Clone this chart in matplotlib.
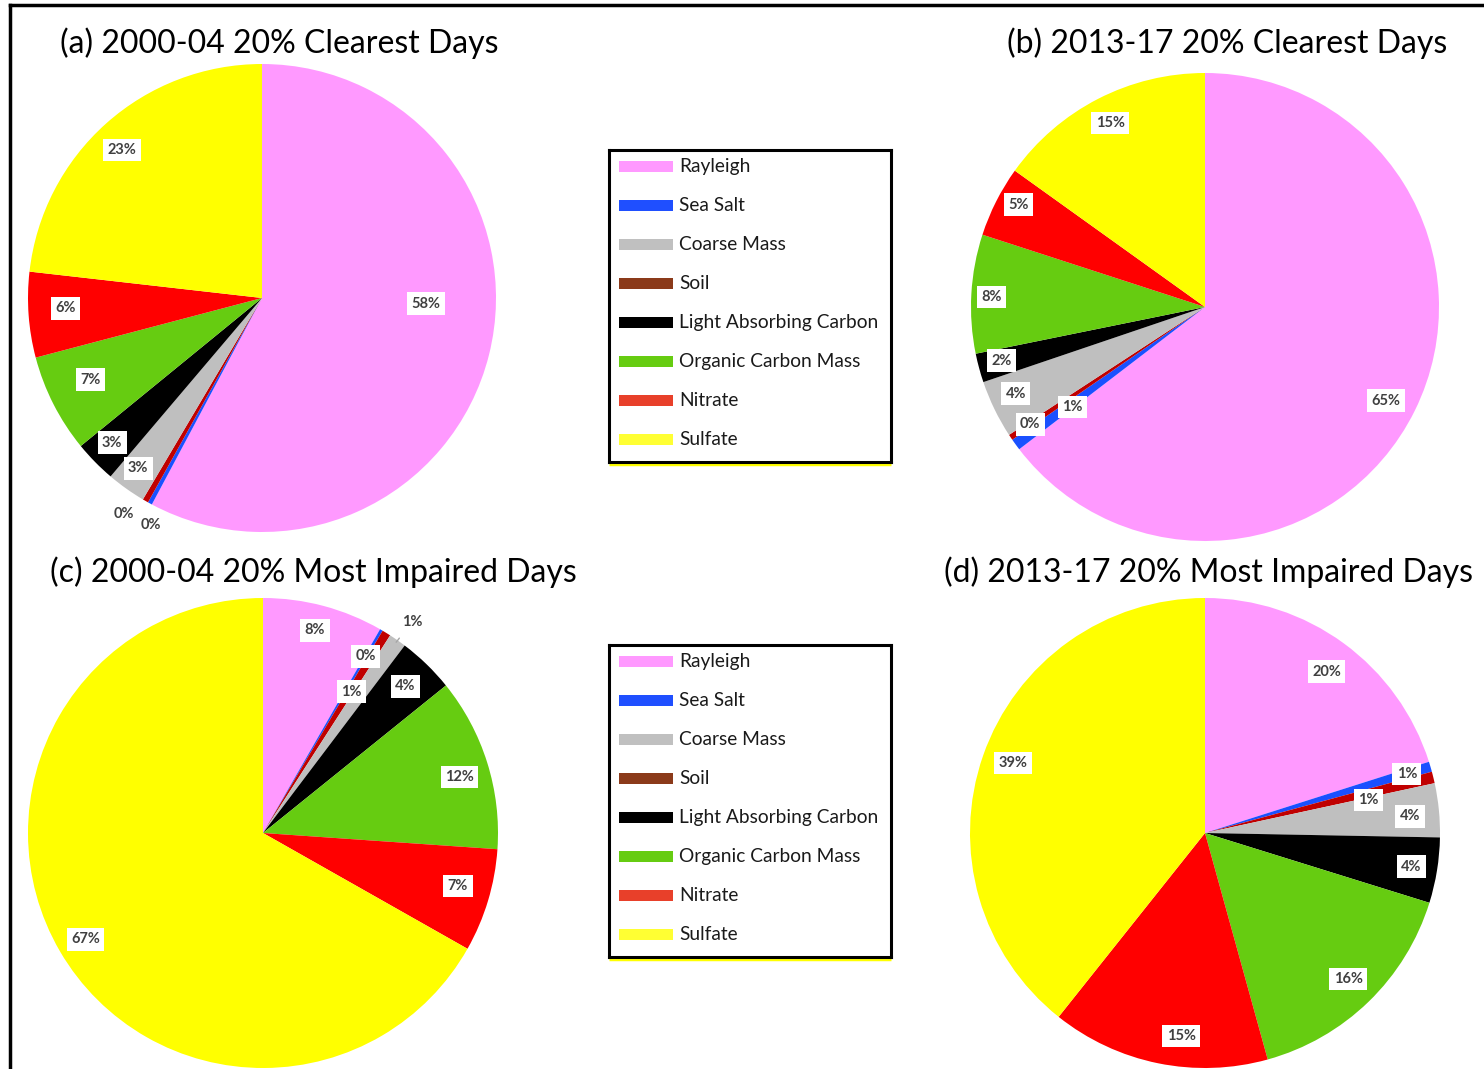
import numpy as np
import matplotlib
matplotlib.use("Agg")
import matplotlib.pyplot as plt
from matplotlib.patches import Rectangle
from matplotlib.lines import Line2D

W, H = 1484, 1069

# slice order as drawn clockwise from 12 o'clock
species = ["Rayleigh", "Sea Salt", "Soil", "Coarse Mass",
           "Light Absorbing Carbon", "Organic Carbon Mass", "Nitrate", "Sulfate"]
clear_0004 = [57.8, 0.3, 0.4, 2.7, 2.9, 6.8, 5.9, 23.2]
clear_1317 = [64.6, 0.8, 0.4, 4.0, 2.0, 8.2, 4.9, 15.1]
impaired_0004 = [8.3, 0.2, 0.6, 1.2, 3.9, 11.9, 7.1, 66.8]
impaired_1317 = [20.1, 0.7, 0.8, 3.7, 4.5, 15.9, 15.0, 39.3]
titles = ["(a) 2000-04 20% Clearest Days", "(b) 2013-17 20% Clearest Days",
          "(c) 2000-04 20% Most Impaired Days", "(d) 2013-17 20% Most Impaired Days"]

# legend order
legend_names = ["Rayleigh", "Sea Salt", "Coarse Mass", "Soil",
                "Light Absorbing Carbon", "Organic Carbon Mass", "Nitrate", "Sulfate"]

pie_colors = ['#ff99ff', '#1a50ff', '#c00000', '#bfbfbf',
              '#000000', '#66cc11', '#ff0000', '#ffff00']
leg_colors = {"Rayleigh": '#ff99ff', "Sea Salt": '#1f4fff', "Coarse Mass": '#c0c0c0',
              "Soil": '#8b3a1a', "Light Absorbing Carbon": '#000000',
              "Organic Carbon Mass": '#66cc11', "Nitrate": '#e8402a', "Sulfate": '#ffff33'}

# pie centre / radius in pixels, title centre, label spots (radius frac, angle)
pies = [
    dict(data=clear_0004, c=(262, 298), r=234, t=(279, 43),
         lab=[(0.70, -2), (1.08, -116), (1.095, -122.6), (0.90, -126), (0.89, -136),
              (0.81, -154.5), (0.84, -177), (0.87, 133.4)], nobox=[1, 2]),
    dict(data=clear_1317, c=(1205, 307), r=234, t=(1227, 43),
         lab=[(0.87, -27.4), (0.71, -143), (0.90, -146.1), (0.89, -155.4), (0.90, -165.2),
              (0.915, 177.3), (0.91, 151.3), (0.885, 117.3)], nobox=[]),
    dict(data=impaired_0004, c=(263, 833), r=235, t=(313, 572),
         lab=[(0.89, 75.6), (0.87, 59.8), (0.71, 57.9), (1.10, 54.8), (0.87, 45.8),
              (0.87, 15.9), (0.86, -15.2), (0.88, -149.1)], nobox=[3], leader=3),
    dict(data=impaired_1317, c=(1205, 833), r=235, t=(1208, 572),
         lab=[(0.86, 53), (0.895, 16.3), (0.71, 11.4), (0.875, 4.7), (0.89, -9.3),
              (0.87, -45.6), (0.87, -96.7), (0.87, 160)], nobox=[]),
]

fig = plt.figure(figsize=(W / 100, H / 100), dpi=100)

for p, title in zip(pies, titles):
    cx, cy = p["c"]
    r = p["r"]
    ax = fig.add_axes([(cx - r) / W, 1 - (cy + r) / H, 2 * r / W, 2 * r / H])
    ax.pie(p["data"], colors=pie_colors, startangle=90, counterclock=False,
           radius=1.0, wedgeprops=dict(linewidth=0))
    ax.set_xlim(-1, 1)
    ax.set_ylim(-1, 1)
    ax.set_aspect('equal')
    ax.axis('off')
    vals = np.array(p["data"])
    cum = np.cumsum(vals) - vals / 2
    for i, v in enumerate(vals):
        rf, ang = p["lab"][i]
        x, y = rf * np.cos(np.radians(ang)), rf * np.sin(np.radians(ang))
        box = None if i in p["nobox"] else dict(boxstyle='square,pad=0.3', fc='white', ec='none')
        if p.get("leader") == i:
            mid = np.radians(90 - cum[i] / 100 * 360)
            ax.annotate(f"{round(v)}%", xy=(0.99 * np.cos(mid), 0.99 * np.sin(mid)),
                        xytext=(x, y), ha='center', va='center', fontsize=10.5,
                        fontweight='bold', color='#404040', family='Lato',
                        arrowprops=dict(arrowstyle='-', color='#a6a6a6', lw=1,
                                        shrinkA=6, shrinkB=0),
                        annotation_clip=False)
        else:
            ax.text(x, y, f"{round(v)}%", ha='center', va='center', fontsize=10.5,
                    fontweight='bold', color='#404040', family='Lato', bbox=box,
                    clip_on=False)
    fig.text(p["t"][0] / W, 1 - p["t"][1] / H, title, ha='center', va='center',
             fontsize=23, family='Lato', color='black')

# the two legend boxes
for top in [150, 645]:
    lx0, lx1, ly1 = 609, 891, top + 312
    lax = fig.add_axes([lx0 / W, 1 - ly1 / H, (lx1 - lx0) / W, 312 / H])
    lax.set_xlim(0, lx1 - lx0)
    lax.set_ylim(312, 0)
    lax.set_xticks([])
    lax.set_yticks([])
    for s in lax.spines.values():
        s.set_linewidth(2.2)
        s.set_color('black')
    for k, name in enumerate(legend_names):
        yk = 16 + 39.1 * k
        lax.add_patch(Rectangle((10, yk - 5.5), 54, 11, fc=leg_colors[name], ec='none'))
        lax.text(70, yk, name, ha='left', va='center', fontsize=13.8,
                 family='Lato', color='#1a1a1a')
    lax.plot([0, lx1 - lx0], [314, 314], color='#ffff00', lw=2.5,
             clip_on=False, solid_capstyle='butt')

# outer frame (cut off at right and bottom)
fig.add_artist(Line2D([10 / W, 10 / W], [0, 1 - 5 / H], color='black', lw=2.5))
fig.add_artist(Line2D([10 / W, 1], [1 - 5 / H, 1 - 5 / H], color='black', lw=2.5))

fig.savefig("out.png", dpi=100)
